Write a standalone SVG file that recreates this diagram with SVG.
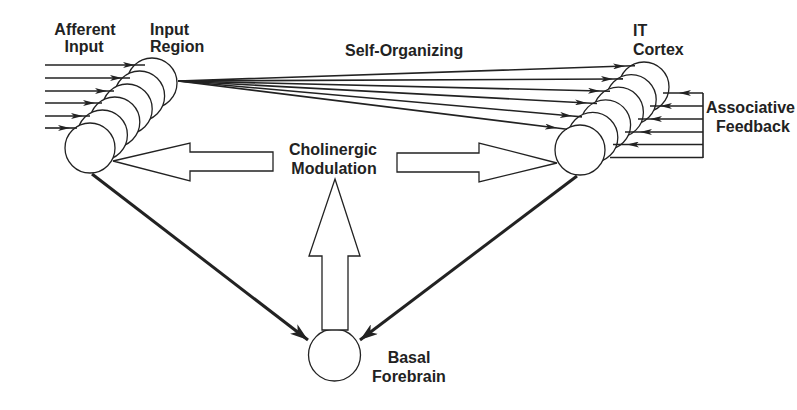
<svg xmlns="http://www.w3.org/2000/svg" width="797" height="410" viewBox="0 0 797 410">
<defs>
<style>
.bg{fill:#ffffff}
.cell{fill:#ffffff;stroke:#222;stroke-width:1.3}
.thin{fill:none;stroke:#222;stroke-width:1.6}
.thick{fill:none;stroke:#222;stroke-width:3}
.hollow{fill:#ffffff;stroke:#222;stroke-width:1.3;stroke-linejoin:miter}
.lbl{font-family:"Liberation Sans",Arial,sans-serif;font-weight:bold;font-size:16px;fill:#222}
</style>
<marker id="ah" viewBox="0 0 12 6" refX="12" refY="3" markerWidth="12" markerHeight="6" markerUnits="userSpaceOnUse" orient="auto">
<path d="M0,0 L12,3 L0,6 L3,3 z" fill="#222"/>
</marker>
<marker id="big" viewBox="0 0 18 12" refX="18" refY="6" markerWidth="18" markerHeight="12" markerUnits="userSpaceOnUse" orient="auto">
<path d="M0,0 L18,6 L0,12 L5,6 z" fill="#222"/>
</marker>
</defs>
<rect class="bg" x="0" y="0" width="797" height="410"/>

<g id="input-region">
<circle class="cell" cx="152" cy="83" r="25"/>
<circle class="cell" cx="139.6" cy="96" r="25"/>
<circle class="cell" cx="127.2" cy="109" r="25"/>
<circle class="cell" cx="114.8" cy="122" r="25"/>
<circle class="cell" cx="102.4" cy="135" r="25"/>
<circle class="cell" cx="90" cy="148" r="25"/>
</g>

<g id="it-cortex">
<circle class="cell" cx="644" cy="87" r="25"/>
<circle class="cell" cx="631.2" cy="99.6" r="25"/>
<circle class="cell" cx="618.4" cy="112.2" r="25"/>
<circle class="cell" cx="605.6" cy="124.8" r="25"/>
<circle class="cell" cx="592.8" cy="137.4" r="25"/>
<circle class="cell" cx="580" cy="150" r="25"/>
</g>

<g id="basal-forebrain">
<circle class="cell" cx="334.5" cy="355" r="26"/>
</g>

<g id="connectors">
<!-- afferent input -->
<polyline class="thin" marker-mid="url(#ah)" points="45,65 135,65 145,65"/>
<polyline class="thin" marker-mid="url(#ah)" points="45,78 122,78 130,78"/>
<polyline class="thin" marker-mid="url(#ah)" points="45,91 107,91 114,91"/>
<polyline class="thin" marker-mid="url(#ah)" points="45,103 95,103 102,103"/>
<polyline class="thin" marker-mid="url(#ah)" points="45,116 83,116 90,116"/>
<polyline class="thin" marker-mid="url(#ah)" points="45,128 70,128 77,128"/>
<!-- self-organizing fan -->
<polyline class="thin" marker-mid="url(#ah)" points="178,81 625,66 635,65.7"/>
<polyline class="thin" marker-mid="url(#ah)" points="178,81 613,79 623,78.9"/>
<polyline class="thin" marker-mid="url(#ah)" points="178,81 600,91 610,91.2"/>
<polyline class="thin" marker-mid="url(#ah)" points="178,81 587,103 597,103.5"/>
<polyline class="thin" marker-mid="url(#ah)" points="178,81 572,116 582,116.9"/>
<polyline class="thin" marker-mid="url(#ah)" points="178,81 557,128 567,129.2"/>
<!-- associative feedback -->
<path class="thin" d="M703,93 V158"/>
<polyline class="thin" marker-mid="url(#ah)" points="703,93 679,93 663,93"/>
<polyline class="thin" marker-mid="url(#ah)" points="703,106 660,106 650,106"/>
<polyline class="thin" marker-mid="url(#ah)" points="703,119 650,119 638,119"/>
<polyline class="thin" marker-mid="url(#ah)" points="703,132 640,132 625,132"/>
<polyline class="thin" marker-mid="url(#ah)" points="703,144.5 627,144.5 613,144.5"/>
<path class="thin" d="M703,157.5 H610"/>
<!-- to basal forebrain -->
<path class="thick" marker-end="url(#big)" d="M92,174 L308,340"/>
<path class="thick" marker-end="url(#big)" d="M577,176 L360,340"/>
<!-- cholinergic modulation hollow arrows -->
<path class="hollow" d="M113,161 L190,143 V152 H273 V171 H190 V181 Z"/>
<path class="hollow" d="M557,163 L479,143 V153 H397 V172 H479 V182 Z"/>
<path class="hollow" d="M335,179 L360,256 H348 V330 H322 V256 H309 Z"/>
</g>

<g id="labels">
<text class="lbl" x="85" y="35" text-anchor="middle">Afferent</text>
<text class="lbl" x="84" y="52" text-anchor="middle">Input</text>
<text class="lbl" x="150" y="35">Input</text>
<text class="lbl" x="150" y="52">Region</text>
<text class="lbl" x="345" y="56">Self-Organizing</text>
<text class="lbl" x="633" y="36">IT</text>
<text class="lbl" x="633" y="55">Cortex</text>
<text class="lbl" x="706" y="113">Associative</text>
<text class="lbl" x="716" y="132">Feedback</text>
<text class="lbl" x="333" y="155" text-anchor="middle">Cholinergic</text>
<text class="lbl" x="334" y="174" text-anchor="middle">Modulation</text>
<text class="lbl" x="409" y="363" text-anchor="middle">Basal</text>
<text class="lbl" x="409" y="382" text-anchor="middle">Forebrain</text>
</g>
</svg>
